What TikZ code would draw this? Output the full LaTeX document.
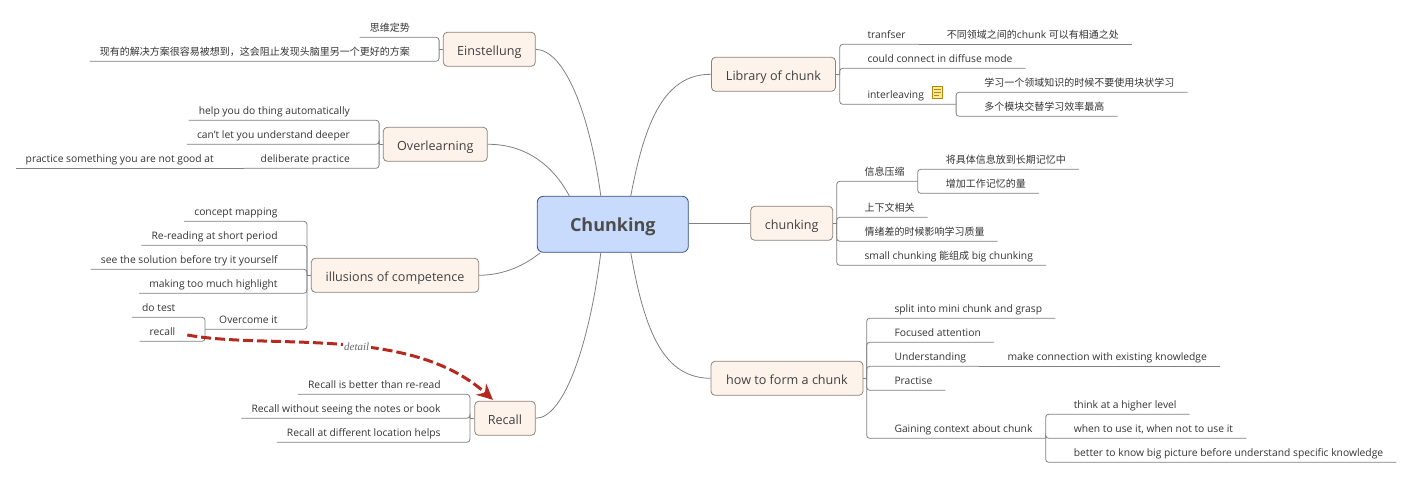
\documentclass[tikz,border=0pt]{standalone}
\usepackage{fontspec}
\usepackage{xcolor}
\setmainfont{Open Sans}
\newfontfamily\cjk[Scale=0.971]{Noto Sans CJK SC}
\newfontfamily\detailfont{Liberation Serif}
\usetikzlibrary{arrows.meta}
\definecolor{topicfill}{HTML}{FEF3EA}
\definecolor{topicline}{HTML}{8C8279}
\definecolor{rootfill}{HTML}{C8DBFC}
\definecolor{rootline}{HTML}{2F4E85}
\definecolor{linkred}{HTML}{B52A20}
\definecolor{notefill}{HTML}{FFE99A}
\definecolor{noteline}{HTML}{B8860B}
\tikzset{
    treenode/.style = {align=center, inner sep=0pt, text centered},
    root_node/.style = {treenode, rectangle, rounded corners=6pt, draw=rootline, fill=rootfill, line width=0.8pt, text=black!70, font=\fontsize{18}{20}\selectfont\bfseries, text height=14pt, text depth=0pt, minimum width=151pt, minimum height=56pt},
    topic_node/.style = {treenode, rectangle, rounded corners=4pt, draw=topicline, fill=topicfill, line width=0.8pt, text=black!75, font=\fontsize{12.6}{14}\selectfont, text height=12pt, text depth=0pt, minimum height=34pt},
    leaf/.style = {inner sep=0pt, text=black!80, font=\fontsize{10.3}{12}\selectfont, text height=14pt, text depth=5.6pt},
    left_leaf/.style = {leaf, anchor=south east, execute at begin node={\hspace*{10pt}}, execute at end node={\hspace*{29.5pt}}},
    right_leaf/.style = {leaf, anchor=south west, execute at begin node={\hspace*{28pt}}, execute at end node={\hspace*{13pt}}},
    branch/.style = {draw=black!50, line width=0.8pt, rounded corners=3pt},
    curve/.style = {draw=black!50, line width=0.8pt},
    note_icon/.style = {rectangle, inner sep=0pt, draw=noteline, fill=notefill, line width=0.9pt, minimum width=10pt, minimum height=12pt},
    detail_link/.style = {-{Stealth[length=16pt,width=15pt]}, draw=linkred, line width=3pt, dash pattern=on 10pt off 4pt}
}
\begin{document}
\begin{tikzpicture}[x=1pt,y=-1pt]
\useasboundingbox (0,0) rectangle (1412,478);
% main topics
\node [root_node] (root) at (612.8,224.3) {Chunking};
\node [topic_node, minimum width=92pt] (ein) at (489.3,49.3) {Einstellung};
\node [topic_node, minimum width=104pt] (over) at (435.3,144.3) {Overlearning};
\node [topic_node, minimum width=167.4pt] (ill) at (395,275.3) {illusions of competence};
\node [topic_node, minimum width=60.6pt] (rec) at (505,418.3) {Recall};
\node [topic_node, minimum width=124pt] (lib) at (773.5,74.3) {Library of chunk};
\node [topic_node, minimum width=82pt] (chu) at (791.7,223.3) {chunking};
\node [topic_node, minimum width=152pt] (how) at (787,378.3) {how to form a chunk};
% curves to the root
\coordinate (rootNA) at ([xshift=-12]root.north);
\coordinate (rootNB) at ([xshift=18]root.north);
\coordinate (rootNC) at ([xshift=-43.5]root.north);
\coordinate (rootSA) at ([xshift=-12]root.south);
\coordinate (rootSB) at ([xshift=18]root.south);
\coordinate (rootSC) at ([xshift=-72.5]root.south);
\draw [curve] (ein.east) .. controls (565,50) and (590,115) .. (rootNA);
\draw [curve] (over.east) .. controls (525,144) and (553,165) .. (rootNC);
\draw [curve] (ill.east) .. controls (505,275) and (525,265) .. (rootSC);
\draw [curve] (rec.east) .. controls (565,418) and (590,340) .. (rootSA);
\draw [curve] (lib.west) .. controls (665,74) and (645,120) .. (rootNB);
\draw [curve] (how.west) .. controls (665,378) and (645,335) .. (rootSB);
\draw [curve] (root.east |- chu.west) -- (chu.west);
% Einstellung
\node [left_leaf] (ein1) at (439.5,37.3) {\cjk 思维定势};
\node [left_leaf] (ein2) at (439.5,61.3) {\cjk 现有的解决方案很容易被想到，这会阻止发现头脑里另一个更好的方案};
\coordinate (einbus) at ([xshift=-3.8]ein.west);
\draw [branch] (ein.west) -- (einbus);
\foreach \leaf in {ein1,ein2}
    \draw [branch] (einbus) |- (\leaf.south west);
% Overlearning
\node [left_leaf] (over1) at (379.5,120.3) {help you do thing automatically};
\node [left_leaf] (over2) at (379.5,144.3) {can't let you understand deeper};
\node [left_leaf] (over3) at (379.5,168.3) {\hspace*{7pt}deliberate practice};
\node [left_leaf] (over3a) at (over3.south west) {practice something you are not good at};
\coordinate (overbus) at ([xshift=-3.8]over.west);
\draw [branch] (over.west) -- (overbus);
\foreach \leaf in {over1,over2,over3}
    \draw [branch] (overbus) |- (\leaf.south west);
\draw [branch] (over3.south west) -- (over3a.south west);
% illusions of competence
\node [left_leaf] (ill1) at (307.3,221.3) {concept mapping};
\node [left_leaf] (ill2) at (307.3,245.3) {Re-reading at short period};
\node [left_leaf] (ill3) at (307.3,269.3) {see the solution before try it yourself};
\node [left_leaf] (ill4) at (307.3,293.3) {making too much highlight};
\node [left_leaf] (ill5) at (307.3,329.3) {\hspace*{4pt}Overcome it};
\node [left_leaf] (ill5a) at ([yshift=12]ill5.south west) {do test};
\node [left_leaf] (ill5b) at ([yshift=-12]ill5.south west) {recall};
\coordinate (illbus) at ([xshift=-4]ill.west);
\draw [branch] (ill.west) -- (illbus);
\foreach \leaf in {ill1,ill2,ill3,ill4,ill5}
    \draw [branch] (illbus) |- (\leaf.south west);
\foreach \leaf in {ill5a,ill5b}
    \draw [branch] (ill5.south west) |- (\leaf.south west);
% Recall
\node [left_leaf] (rec1) at (470.3,394.3) {Recall is better than re-read};
\node [left_leaf] (rec2) at (470.3,418.3) {Recall without seeing the notes or book};
\node [left_leaf] (rec3) at (470.3,442.3) {Recall at different location helps};
\coordinate (recbus) at ([xshift=-4.4]rec.west);
\draw [branch] (rec.west) -- (recbus);
\foreach \leaf in {rec1,rec2,rec3}
    \draw [branch] (recbus) |- (\leaf.south west);
% Library of chunk
\node [right_leaf] (lib1) at (839.3,44.3) {tranfser};
\node [right_leaf] (lib1a) at (lib1.south east) {{\cjk 不同领域之间的}chunk {\cjk 可以有相通之处}};
\node [right_leaf] (lib2) at (839.3,68.3) {could connect in diffuse mode};
\node [right_leaf] (lib3) at (839.3,104.3) {interleaving\hspace*{19pt}};
\node [right_leaf] (lib3a) at ([yshift=12]lib3.south east) {\cjk 学习一个领域知识的时候不要使用块状学习};
\node [right_leaf] (lib3b) at ([yshift=-12]lib3.south east) {\cjk 多个模块交替学习效率最高};
\node [note_icon] (note) at (937.5,92.5) {};
\draw [noteline, line width=0.7pt] ([xshift=2,yshift=-3]note.north west) -- ([xshift=-2,yshift=-3]note.north east)
    ([xshift=2,yshift=-6]note.north west) -- ([xshift=-2,yshift=-6]note.north east)
    ([xshift=2,yshift=-9]note.north west) -- ([xshift=-4,yshift=-9]note.north east);
\coordinate (libbus) at ([xshift=3.8]lib.east);
\draw [branch] (lib.east) -- (libbus);
\foreach \leaf in {lib1,lib2,lib3}
    \draw [branch] (libbus) |- (\leaf.south east);
\draw [branch] (lib1.south east) -- (lib1a.south east);
\foreach \leaf in {lib3a,lib3b}
    \draw [branch] (lib3.south east) |- (\leaf.south east);
% chunking
\node [right_leaf] (chu1) at (836.3,181.3) {\cjk 信息压缩};
\node [right_leaf] (chu1a) at ([yshift=12]chu1.south east) {\cjk 将具体信息放到长期记忆中};
\node [right_leaf] (chu1b) at ([yshift=-12]chu1.south east) {\cjk 增加工作记忆的量};
\node [right_leaf] (chu2) at (836.3,217.3) {\cjk 上下文相关};
\node [right_leaf] (chu3) at (836.3,241.3) {\cjk 情绪差的时候影响学习质量};
\node [right_leaf] (chu4) at (836.3,265.3) {small chunking {\cjk 能组成} big chunking};
\coordinate (chubus) at ([xshift=3.6]chu.east);
\draw [branch] (chu.east) -- (chubus);
\foreach \leaf in {chu1,chu2,chu3,chu4}
    \draw [branch] (chubus) |- (\leaf.south east);
\foreach \leaf in {chu1a,chu1b}
    \draw [branch] (chu1.south east) |- (\leaf.south east);
% how to form a chunk
\node [right_leaf] (how1) at (866.3,318.3) {split into mini chunk and grasp};
\node [right_leaf] (how2) at (866.3,342.3) {Focused attention};
\node [right_leaf] (how3) at (866.3,366.3) {Understanding};
\node [right_leaf] (how3a) at (how3.south east) {make connection with existing knowledge};
\node [right_leaf] (how4) at (866.3,390.3) {Practise};
\node [right_leaf] (how5) at (866.3,438.3) {Gaining context about chunk};
\node [right_leaf] (how5a) at ([yshift=24]how5.south east) {think at a higher level};
\node [right_leaf] (how5b) at (how5.south east) {when to use it, when not to use it};
\node [right_leaf] (how5c) at ([yshift=-24]how5.south east) {better to know big picture before understand specific knowledge};
\coordinate (howbus) at ([xshift=3.3]how.east);
\draw [branch] (how.east) -- (howbus);
\foreach \leaf in {how1,how2,how3,how4,how5}
    \draw [branch] (howbus) |- (\leaf.south east);
\draw [branch] (how3.south east) -- (how3a.south east);
\foreach \leaf in {how5a,how5b,how5c}
    \draw [branch] (how5.south east) |- (\leaf.south east);
% detail link
\coordinate (detailA) at (187.3,335);
\coordinate (detailB) at ([xshift=-12,yshift=1]rec.north);
\draw [detail_link] (detailA) .. controls (270,350) and (410,325) .. (detailB)
    node [pos=0.55, inner sep=1.5pt, fill=white, text=black!60, font=\detailfont\itshape\fontsize{11}{12}\selectfont] (detail) {detail};
\end{tikzpicture}
\end{document}
